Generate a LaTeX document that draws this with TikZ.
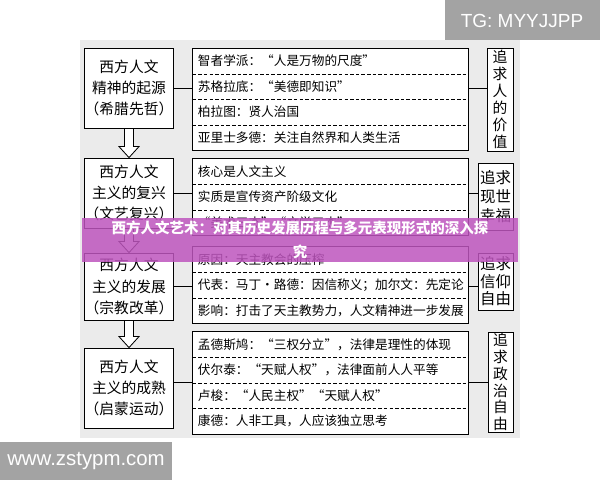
\documentclass[tikz,border=0pt]{standalone}
\usepackage{fontspec}
\setmainfont{Noto Sans CJK SC}
\newfontfamily\wmfont{Liberation Sans}
\usetikzlibrary{calc,fit}
\definecolor{panelgray}{RGB}{235,235,235}
\definecolor{markgray}{RGB}{163,163,163}
\definecolor{bannerpink}{RGB}{190,85,190}

\tikzset{
  stagebox/.style={draw,fill=white,line width=0.6pt,minimum width=2.15cm,align=center,
    inner sep=0pt,font=\fontsize{10.5}{15}\selectfont},
  rowbox/.style={fill=white,minimum width=6.875cm,minimum height=0.6375cm,text width=6.625cm,
    align=left,inner xsep=0.125cm,inner ysep=0pt,font=\fontsize{9}{11}\selectfont},
  groupbox/.style={draw,line width=0.6pt,inner sep=0pt},
  aimbox/.style={draw,fill=white,line width=0.6pt,align=center,inner sep=0pt,
    font=\fontsize{10.5}{12}\selectfont},
  rowline/.style={line width=0.5pt,dash pattern=on 2.5pt off 1.5pt},
  link/.style={line width=0.6pt},
}

% hollow arrow from one stage to the next
\newcommand\hollowarrow[2]{%
  \draw[line width=0.6pt,fill=white] ($(#1.south)+(-4.5,0)$) -- ($(#2.north)+(-4.5,-11)$)
    -- ($(#2.north)+(-10,-11)$) -- (#2.north) -- ($(#2.north)+(10,-11)$)
    -- ($(#2.north)+(4.5,-11)$) -- ($(#1.south)+(4.5,0)$) -- cycle;}

\begin{document}
\begin{tikzpicture}[x=0.025cm,y=-0.025cm]
\useasboundingbox (0,0) rectangle (600,480);
\fill[white] (0,0) rectangle (600,480);
\fill[panelgray] (80,40) rectangle (520,438);

% stages
\node[stagebox,minimum height=2cm] (L1) at (129,88) {西方人文\\精神的起源\\（希腊先哲）};
\node[stagebox,minimum height=1.75cm] (L2) at (129,193) {西方人文\\主义的复兴\\（文艺复兴）};
\node[stagebox,minimum height=1.675cm] (L3) at (129,286.5) {西方人文\\主义的发展\\（宗教改革）};
\node[stagebox,minimum height=2cm] (L4) at (129,388) {西方人文\\主义的成熟\\（启蒙运动）};

% contents
\node[rowbox] (M1a) at (330.5,61) {智者学派：“人是万物的尺度”};
\node[rowbox] (M1b) at (330.5,86.5) {苏格拉底：“美德即知识”};
\node[rowbox] (M1c) at (330.5,112) {柏拉图：贤人治国};
\node[rowbox] (M1d) at (330.5,137.5) {亚里士多德：关注自然界和人类生活};
\node[groupbox,fit=(M1a)(M1d)] (M1) {};
\draw[rowline] (M1a.south west) -- (M1a.south east);
\draw[rowline] (M1b.south west) -- (M1b.south east);
\draw[rowline] (M1c.south west) -- (M1c.south east);

\node[rowbox] (M2a) at (330.5,171.5) {核心是人文主义};
\node[rowbox] (M2b) at (330.5,197) {实质是宣传资产阶级文化};
\node[rowbox] (M2c) at (330.5,222.5) {“美术三杰”“文学三杰”};
\node[groupbox,fit=(M2a)(M2c)] (M2) {};
\draw[rowline] (M2a.south west) -- (M2a.south east);
\draw[rowline] (M2b.south west) -- (M2b.south east);

\node[rowbox] (M3a) at (330.5,259.5) {原因：天主教会的压榨};
\node[rowbox] (M3b) at (330.5,285) {代表：马丁·路德：因信称义；加尔文：先定论};
\node[rowbox] (M3c) at (330.5,310.5) {影响：打击了天主教势力，人文精神进一步发展};
\node[groupbox,fit=(M3a)(M3c)] (M3) {};
\draw[rowline] (M3a.south west) -- (M3a.south east);
\draw[rowline] (M3b.south west) -- (M3b.south east);

\node[rowbox] (M4a) at (330.5,344.5) {孟德斯鸠：“三权分立”，法律是理性的体现};
\node[rowbox] (M4b) at (330.5,370) {伏尔泰：“天赋人权”，法律面前人人平等};
\node[rowbox] (M4c) at (330.5,395.5) {卢梭：“人民主权”“天赋人权”};
\node[rowbox] (M4d) at (330.5,421) {康德：人非工具，人应该独立思考};
\node[groupbox,fit=(M4a)(M4d)] (M4) {};
\draw[rowline] (M4a.south west) -- (M4a.south east);
\draw[rowline] (M4b.south west) -- (M4b.south east);
\draw[rowline] (M4c.south west) -- (M4c.south east);

% aims
\node[aimbox,minimum width=0.65cm,minimum height=2.575cm] (R1) at (500,99.5) {追\\求\\人\\的\\价\\值};
\node[aimbox,minimum width=0.875cm,minimum height=1.675cm,font=\fontsize{11}{13.5}\selectfont] (R2) at (495.5,196.5) {追求\\现世\\幸福};
\node[aimbox,minimum width=0.875cm,minimum height=1.425cm,font=\fontsize{11}{12.5}\selectfont] (R3) at (495.5,281.5) {追求\\信仰\\自由};
\node[aimbox,minimum width=0.625cm,minimum height=2.5cm] (R4) at (500.5,382) {追\\求\\政\\治\\自\\由};

% links
\draw[link] (L1.east) -- (L1.east -| M1.west);
\draw[link] (L1.east -| M1.east) -- (L1.east -| R1.west);
\draw[link] (L2.east) -- (L2.east -| M2.west);
\draw[link] (L2.east -| M2.east) -- (L2.east -| R2.west);
\draw[link] (L3.east) -- (L3.east -| M3.west);
\draw[link] (L3.east -| M3.east) -- (L3.east -| R3.west);
\draw[link] (M4.west -| L4.east) -- (M4.west);
\draw[link] (M4.east) -- (M4.east -| R4.west);

\hollowarrow{L1}{L2}
\hollowarrow{L2}{L3}
\hollowarrow{L3}{L4}

% overlays
\fill[bannerpink,opacity=0.85] (82,218) rectangle (518,262);
\node[text=white,font=\bfseries\fontsize{10.3}{17}\selectfont,align=center] (title) at (300,240)
  {西方人文艺术：对其历史发展历程与多元表现形式的深入探\\究};
\fill[markgray] (445,0) rectangle (600,40);
\node[text=white,font=\wmfont\fontsize{13.5}{14}\selectfont] (tg) at (522,21) {TG: MYYJJPP};
\fill[markgray] (0,442) rectangle (172,480);
\node[text=white,font=\wmfont\fontsize{14.5}{15}\selectfont] (site) at (86,461) {www.zstypm.com};
\end{tikzpicture}
\end{document}
